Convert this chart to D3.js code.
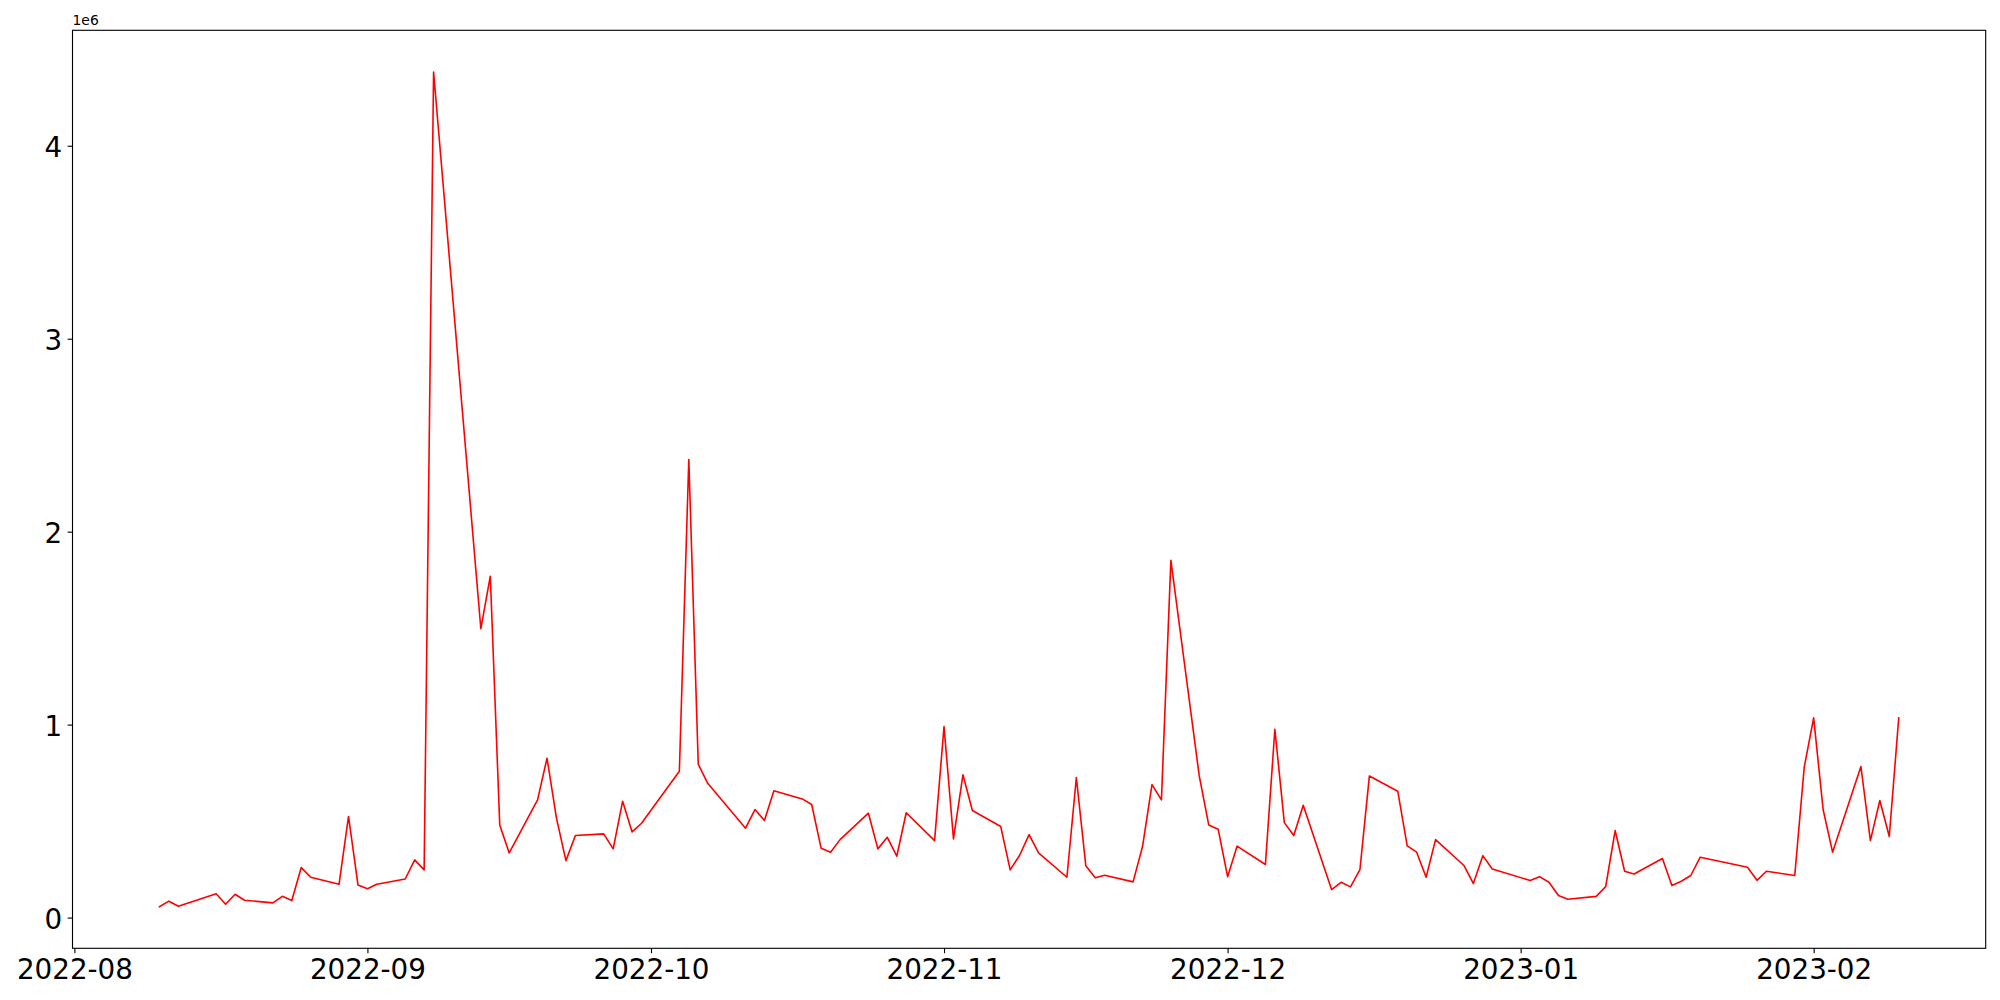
<!DOCTYPE html>
<html><head><meta charset="utf-8">
<script src="https://cdn.jsdelivr.net/npm/d3@7"></script>
<style>body{margin:0;background:#fff}svg{display:block}</style>
</head><body><svg id="c" width="2000" height="1000"></svg>
<script>
const dates = [
"2022-08-10","2022-08-11","2022-08-12","2022-08-16","2022-08-17","2022-08-18","2022-08-19",
"2022-08-22","2022-08-23","2022-08-24","2022-08-25","2022-08-26","2022-08-29","2022-08-30","2022-08-31",
"2022-09-01","2022-09-02","2022-09-05","2022-09-06","2022-09-07","2022-09-08",
"2022-09-13","2022-09-14","2022-09-15","2022-09-16","2022-09-19","2022-09-20","2022-09-21","2022-09-22","2022-09-23",
"2022-09-26","2022-09-27","2022-09-28","2022-09-29","2022-09-30",
"2022-10-04","2022-10-05","2022-10-06","2022-10-07","2022-10-11","2022-10-12","2022-10-13","2022-10-14",
"2022-10-17","2022-10-18","2022-10-19","2022-10-20","2022-10-21","2022-10-24","2022-10-25","2022-10-26","2022-10-27","2022-10-28","2022-10-31",
"2022-11-01","2022-11-02","2022-11-03","2022-11-04","2022-11-07","2022-11-08","2022-11-09","2022-11-10","2022-11-11",
"2022-11-14","2022-11-15","2022-11-16","2022-11-17","2022-11-18","2022-11-21","2022-11-22","2022-11-23","2022-11-24","2022-11-25",
"2022-11-28","2022-11-29","2022-11-30",
"2022-12-01","2022-12-02","2022-12-05","2022-12-06","2022-12-07","2022-12-08","2022-12-09","2022-12-12","2022-12-13","2022-12-14","2022-12-15","2022-12-16",
"2022-12-19","2022-12-20","2022-12-21","2022-12-22","2022-12-23","2022-12-26","2022-12-27","2022-12-28","2022-12-29",
"2023-01-02","2023-01-03","2023-01-04","2023-01-05","2023-01-06","2023-01-09","2023-01-10","2023-01-11","2023-01-12","2023-01-13",
"2023-01-16","2023-01-17","2023-01-18","2023-01-19","2023-01-20","2023-01-25","2023-01-26","2023-01-27","2023-01-30","2023-01-31",
"2023-02-01","2023-02-02","2023-02-03","2023-02-06","2023-02-07","2023-02-08","2023-02-09","2023-02-10"
];
const values = [
57000,85000,59000,123000,69000,121000,90000,
76000,110000,88000,259000,209000,173000,524000,169000,
149000,173000,200000,299000,247000,4382000,
1497000,1769000,480000,335000,610000,826000,515000,295000,425000,
434000,356000,603000,444000,489000,
758000,2374000,795000,696000,463000,560000,503000,657000,
615000,586000,359000,339000,404000,541000,356000,416000,318000,543000,399000,
990000,408000,740000,555000,472000,247000,323000,430000,335000,
209000,726000,268000,206000,219000,185000,368000,689000,610000,1851000,
734000,480000,458000,
212000,370000,275000,976000,492000,425000,582000,145000,183000,159000,249000,734000,
655000,372000,339000,209000,404000,270000,176000,321000,252000,
192000,212000,183000,114000,95000,110000,161000,451000,240000,226000,
306000,166000,188000,218000,313000,261000,193000,240000,218000,779000,
1035000,560000,339000,783000,399000,607000,420000,1035000
];
const yTickValues = [0, 1000000, 2000000, 3000000, 4000000];
const yTickLabels = ["0", "1", "2", "3", "4"];
const xTickFormat = "%Y-%m";
const offsetText = "1e6";
const lineColor = "#ff0000";

const W = 2000, H = 1000;
const m = {left: 72.5, top: 30.3, right: 2000 - 1985.7, bottom: 1000 - 948.3};
const iw = W - m.left - m.right, ih = H - m.top - m.bottom;

const parse = d3.utcParse("%Y-%m-%d");
const data = dates.map((d, i) => ({t: parse(d), v: values[i]}));

const tExt = d3.extent(data, d => d.t);
const tPad = (tExt[1] - tExt[0]) * 0.05;
const vExt = d3.extent(data, d => d.v);
const vPad = (vExt[1] - vExt[0]) * 0.05;

const x = d3.scaleUtc().domain([new Date(+tExt[0] - tPad), new Date(+tExt[1] + tPad)]).range([0, iw]);
const y = d3.scaleLinear().domain([vExt[0] - vPad, vExt[1] + vPad]).range([ih, 0]);

const svg = d3.select("#c");
svg.append("rect").attr("width", W).attr("height", H).attr("fill", "#fff");
const g = svg.append("g").attr("transform", `translate(${m.left},${m.top})`);

const font = "DejaVu Sans, sans-serif";
const tickLen = 4.86;

// line
g.append("path")
  .datum(data)
  .attr("fill", "none")
  .attr("stroke", lineColor)
  .attr("stroke-width", 1.6)
  .attr("stroke-linejoin", "round")
  .attr("stroke-linecap", "square")
  .attr("d", d3.line().x(d => x(d.t)).y(d => y(d.v)));

// x axis
const xAxis = g.append("g").attr("transform", `translate(0,${ih})`)
  .call(d3.axisBottom(x).ticks(d3.utcMonth.every(1)).tickFormat(d3.utcFormat(xTickFormat))
        .tickSize(tickLen).tickPadding(6.6));
xAxis.select(".domain").remove();
xAxis.selectAll("line").attr("stroke", "#000").attr("stroke-width", 1.11);
xAxis.selectAll("text").attr("font-family", font).attr("font-size", 27.78).attr("fill", "#000");

// y axis
const yAxis = g.append("g")
  .call(d3.axisLeft(y).tickValues(yTickValues).tickFormat((d, i) => yTickLabels[i])
        .tickSize(tickLen).tickPadding(5.4));
yAxis.select(".domain").remove();
yAxis.selectAll("line").attr("stroke", "#000").attr("stroke-width", 1.11);
yAxis.selectAll("text").attr("font-family", font).attr("font-size", 27.78).attr("fill", "#000").attr("dy", "0.38em");

// frame
g.append("rect").attr("x", 0).attr("y", 0).attr("width", iw).attr("height", ih)
  .attr("fill", "none").attr("stroke", "#000").attr("stroke-width", 1.11);

// offset text
g.append("text").attr("x", 0).attr("y", -5).attr("font-family", font).attr("font-size", 13.9)
  .attr("fill", "#000").text(offsetText);
</script>
</body></html>
